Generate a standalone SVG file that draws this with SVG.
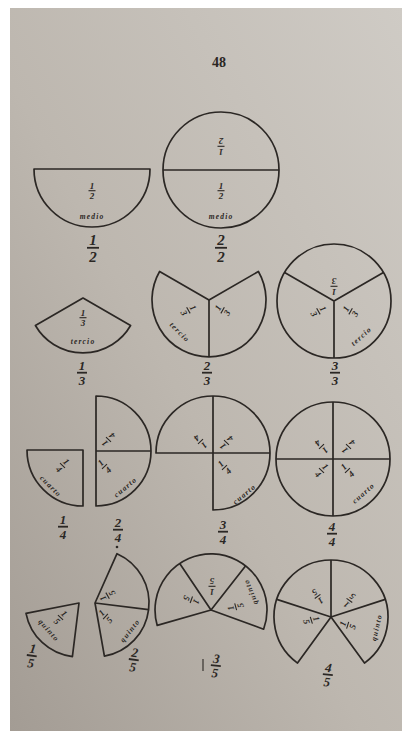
<svg xmlns="http://www.w3.org/2000/svg" width="402" height="731" viewBox="0 0 402 731">
<defs>
<linearGradient id="pg" x1="0" y1="1" x2="1" y2="0">
<stop offset="0" stop-color="#a39c94"/>
<stop offset="0.45" stop-color="#bdb7af"/>
<stop offset="1" stop-color="#cfcbc5"/>
</linearGradient>
<style>
.s{fill:none;stroke:#2b2724;stroke-width:1.7;stroke-linejoin:round}
.sf{font-family:"Liberation Serif",serif;font-style:italic;font-weight:bold;font-size:9px;fill:#2b2724;text-anchor:middle}
.w{font-family:"Liberation Serif",serif;font-style:italic;font-weight:bold;font-size:7.5px;letter-spacing:1.2px;fill:#2b2724;text-anchor:middle}
.bf{font-family:"Liberation Serif",serif;font-style:italic;font-weight:bold;font-size:15px;fill:#2b2724;text-anchor:middle}
.mf{font-family:"Liberation Serif",serif;font-style:italic;font-weight:bold;font-size:13px;fill:#2b2724;text-anchor:middle}
.b{stroke:#2b2724;stroke-width:1.1}
.bb{stroke:#2b2724;stroke-width:1.8}
</style>
</defs>
<rect width="402" height="731" fill="#ffffff"/>
<rect x="10" y="8" width="392" height="723" fill="url(#pg)"/>
<text x="219" y="67" font-family="Liberation Serif,serif" font-weight="bold" font-size="14" fill="#2b2724" text-anchor="middle">48</text>

<g id="half">
<path class="s" d="M34,169 H150 A58,58 0 0 1 34,169 Z"/>
<g transform="translate(92,190)"><text class="sf" y="-1.5">1</text><line class="b" x1="-3.5" x2="3.5" y1="0.7" y2="0.7"/><text class="sf" y="8.8">2</text></g>
<text class="w" x="92" y="219">medio</text>
<g transform="translate(93,246)"><text class="bf" y="-1.5">1</text><line class="bb" x1="-6" x2="6" y1="1.8" y2="1.8"/><text class="bf" y="15.5">2</text></g>
</g>

<g id="two-halves">
<circle class="s" cx="221" cy="170" r="58"/>
<line class="s" x1="163" y1="170" x2="279" y2="170"/>
<g transform="translate(221,147) rotate(180)"><text class="sf" y="-1.5">1</text><line class="b" x1="-3.5" x2="3.5" y1="0.7" y2="0.7"/><text class="sf" y="8.8">2</text></g>
<g transform="translate(221,190)"><text class="sf" y="-1.5">1</text><line class="b" x1="-3.5" x2="3.5" y1="0.7" y2="0.7"/><text class="sf" y="8.8">2</text></g>
<text class="w" x="221" y="219">medio</text>
<g transform="translate(221,246)"><text class="bf" y="-1.5">2</text><line class="bb" x1="-6" x2="6" y1="1.8" y2="1.8"/><text class="bf" y="15.5">2</text></g>
</g>

<g id="one-third">
<path class="s" d="M83,298 L130.6,325.5 A55,55 0 0 1 35.4,325.5 Z"/>
<g transform="translate(83,317)"><text class="sf" y="-1.5">1</text><line class="b" x1="-3.5" x2="3.5" y1="0.7" y2="0.7"/><text class="sf" y="8.8">3</text></g>
<text class="w" x="83" y="344">tercio</text>
<g transform="translate(82,371)"><text class="mf" y="-1">1</text><line class="bb" x1="-5" x2="5" y1="1.7" y2="1.7"/><text class="mf" y="13.5">3</text></g>
</g>

<g id="two-thirds">
<path class="s" d="M209,300 L258.4,271.5 A57,57 0 1 1 159.6,271.5 Z"/>
<line class="s" x1="209" y1="300" x2="209" y2="357"/>
<g transform="translate(189,310) rotate(60)"><text class="sf" y="-1.5">1</text><line class="b" x1="-3.5" x2="3.5" y1="0.7" y2="0.7"/><text class="sf" y="8.8">3</text></g>
<g transform="translate(222,310) rotate(-60)"><text class="sf" y="-1.5">1</text><line class="b" x1="-3.5" x2="3.5" y1="0.7" y2="0.7"/><text class="sf" y="8.8">3</text></g>
<text class="w" transform="translate(178,334) rotate(45)">tercio</text>
<g transform="translate(207,371)"><text class="mf" y="-1">2</text><line class="bb" x1="-5" x2="5" y1="1.7" y2="1.7"/><text class="mf" y="13.5">3</text></g>
</g>

<g id="three-thirds">
<circle class="s" cx="334" cy="301" r="57"/>
<path class="s" d="M334,301 L284.6,272.5 M334,301 L383.4,272.5 M334,301 V358"/>
<g transform="translate(334,287) rotate(180)"><text class="sf" y="-1.5">1</text><line class="b" x1="-3.5" x2="3.5" y1="0.7" y2="0.7"/><text class="sf" y="8.8">3</text></g>
<g transform="translate(319,311) rotate(60)"><text class="sf" y="-1.5">1</text><line class="b" x1="-3.5" x2="3.5" y1="0.7" y2="0.7"/><text class="sf" y="8.8">3</text></g>
<g transform="translate(350,311) rotate(-60)"><text class="sf" y="-1.5">1</text><line class="b" x1="-3.5" x2="3.5" y1="0.7" y2="0.7"/><text class="sf" y="8.8">3</text></g>
<text class="w" transform="translate(363,338) rotate(-42)">tercio</text>
<g transform="translate(335,371)"><text class="mf" y="-1">3</text><line class="bb" x1="-5" x2="5" y1="1.7" y2="1.7"/><text class="mf" y="13.5">3</text></g>
</g>

<g id="one-quarter">
<path class="s" d="M83,450 H27 A56,56 0 0 0 83,506 Z"/>
<g transform="translate(63,465) rotate(45)"><text class="sf" y="-1.5">1</text><line class="b" x1="-3.5" x2="3.5" y1="0.7" y2="0.7"/><text class="sf" y="8.8">4</text></g>
<text class="w" transform="translate(49,488) rotate(45)">cuarto</text>
<g transform="translate(63,525)"><text class="mf" y="-1">1</text><line class="bb" x1="-5" x2="5" y1="1.7" y2="1.7"/><text class="mf" y="13.5">4</text></g>
</g>

<g id="two-quarters">
<path class="s" d="M96,396 A55,55 0 0 1 96,506 Z"/>
<line class="s" x1="96" y1="451" x2="151" y2="451"/>
<g transform="translate(108,440) rotate(-135)"><text class="sf" y="-1.5">1</text><line class="b" x1="-3.5" x2="3.5" y1="0.7" y2="0.7"/><text class="sf" y="8.8">4</text></g>
<g transform="translate(104,466) rotate(-45)"><text class="sf" y="-1.5">1</text><line class="b" x1="-3.5" x2="3.5" y1="0.7" y2="0.7"/><text class="sf" y="8.8">4</text></g>
<text class="w" transform="translate(127,489) rotate(-40)">cuarto</text>
<g transform="translate(118,528)"><text class="mf" y="-1">2</text><line class="bb" x1="-5" x2="5" y1="1.7" y2="1.7"/><text class="mf" y="13.5">4</text></g>
<circle cx="117" cy="547" r="1.3" fill="#2b2724"/>
</g>

<g id="three-quarters">
<path class="s" d="M213,453 H156 A57,57 0 1 1 213,510 Z"/>
<path class="s" d="M213,453 H270 M213,396 V453"/>
<g transform="translate(201,442) rotate(135)"><text class="sf" y="-1.5">1</text><line class="b" x1="-3.5" x2="3.5" y1="0.7" y2="0.7"/><text class="sf" y="8.8">4</text></g>
<g transform="translate(226,443) rotate(-135)"><text class="sf" y="-1.5">1</text><line class="b" x1="-3.5" x2="3.5" y1="0.7" y2="0.7"/><text class="sf" y="8.8">4</text></g>
<g transform="translate(224,467) rotate(-45)"><text class="sf" y="-1.5">1</text><line class="b" x1="-3.5" x2="3.5" y1="0.7" y2="0.7"/><text class="sf" y="8.8">4</text></g>
<text class="w" transform="translate(246,496) rotate(-40)">cuarto</text>
<g transform="translate(223,530)"><text class="mf" y="-1">3</text><line class="bb" x1="-5" x2="5" y1="1.7" y2="1.7"/><text class="mf" y="13.5">4</text></g>
</g>

<g id="four-quarters">
<circle class="s" cx="333" cy="459" r="57"/>
<path class="s" d="M276,459 H390 M333,402 V516"/>
<g transform="translate(322,447) rotate(135)"><text class="sf" y="-1.5">1</text><line class="b" x1="-3.5" x2="3.5" y1="0.7" y2="0.7"/><text class="sf" y="8.8">4</text></g>
<g transform="translate(348,447) rotate(-135)"><text class="sf" y="-1.5">1</text><line class="b" x1="-3.5" x2="3.5" y1="0.7" y2="0.7"/><text class="sf" y="8.8">4</text></g>
<g transform="translate(322,470) rotate(45)"><text class="sf" y="-1.5">1</text><line class="b" x1="-3.5" x2="3.5" y1="0.7" y2="0.7"/><text class="sf" y="8.8">4</text></g>
<g transform="translate(347,470) rotate(-45)"><text class="sf" y="-1.5">1</text><line class="b" x1="-3.5" x2="3.5" y1="0.7" y2="0.7"/><text class="sf" y="8.8">4</text></g>
<text class="w" transform="translate(365,495) rotate(-42)">cuarto</text>
<g transform="translate(332,532)"><text class="mf" y="-1">4</text><line class="bb" x1="-5" x2="5" y1="1.7" y2="1.7"/><text class="mf" y="13.5">4</text></g>
</g>

<g id="one-fifth">
<path class="s" d="M79,603 L26,613.3 A54,54 0 0 0 72.4,656.6 Z"/>
<g transform="translate(61,617) rotate(43)"><text class="sf" y="-1.5">1</text><line class="b" x1="-3.5" x2="3.5" y1="0.7" y2="0.7"/><text class="sf" y="8.8">5</text></g>
<text class="w" transform="translate(47,632) rotate(48)">quinto</text>
<g transform="translate(32,654) rotate(8)"><text class="mf" y="-1">1</text><line class="bb" x1="-5" x2="5" y1="1.7" y2="1.7"/><text class="mf" y="13.5">5</text></g>
</g>

<g id="two-fifths">
<path class="s" d="M95,603 L117,553.7 A54,54 0 0 1 104.4,656.2 Z"/>
<line class="s" x1="95" y1="603" x2="148.6" y2="609.6"/>
<g transform="translate(107,596) rotate(-120)"><text class="sf" y="-1.5">1</text><line class="b" x1="-3.5" x2="3.5" y1="0.7" y2="0.7"/><text class="sf" y="8.8">5</text></g>
<g transform="translate(105,616) rotate(-47)"><text class="sf" y="-1.5">1</text><line class="b" x1="-3.5" x2="3.5" y1="0.7" y2="0.7"/><text class="sf" y="8.8">5</text></g>
<text class="w" transform="translate(132,632) rotate(-52)">quinto</text>
<g transform="translate(134,658) rotate(8)"><text class="mf" y="-1">2</text><line class="bb" x1="-5" x2="5" y1="1.7" y2="1.7"/><text class="mf" y="13.5">5</text></g>
</g>

<g id="three-fifths">
<path class="s" d="M211,610 L157.2,625.4 A56,56 0 1 1 263.6,629.2 Z"/>
<path class="s" d="M211,610 L179.7,563.6 M211,610 L245.5,565.9"/>
<g transform="translate(192,600) rotate(110)"><text class="sf" y="-1.5">1</text><line class="b" x1="-3.5" x2="3.5" y1="0.7" y2="0.7"/><text class="sf" y="8.8">5</text></g>
<g transform="translate(212,587) rotate(180)"><text class="sf" y="-1.5">1</text><line class="b" x1="-3.5" x2="3.5" y1="0.7" y2="0.7"/><text class="sf" y="8.8">5</text></g>
<g transform="translate(235,607) rotate(-106)"><text class="sf" y="-1.5">1</text><line class="b" x1="-3.5" x2="3.5" y1="0.7" y2="0.7"/><text class="sf" y="8.8">5</text></g>
<text class="w" transform="translate(253,591) rotate(-112)">quinto</text>
<line class="b" x1="203" y1="659" x2="203" y2="671"/>
<g transform="translate(216,664) rotate(6)"><text class="mf" y="-1">3</text><line class="bb" x1="-5" x2="5" y1="1.7" y2="1.7"/><text class="mf" y="13.5">5</text></g>
</g>

<g id="four-fifths">
<path class="s" d="M331,617 L297.5,663.1 A57,57 0 1 1 364.5,663.1 Z"/>
<path class="s" d="M331,617 L276.8,599.4 M331,617 L331,560 M331,617 L385.2,599.4"/>
<g transform="translate(318,597) rotate(144)"><text class="sf" y="-1.5">1</text><line class="b" x1="-3.5" x2="3.5" y1="0.7" y2="0.7"/><text class="sf" y="8.8">5</text></g>
<g transform="translate(349,601) rotate(-144)"><text class="sf" y="-1.5">1</text><line class="b" x1="-3.5" x2="3.5" y1="0.7" y2="0.7"/><text class="sf" y="8.8">5</text></g>
<g transform="translate(312,620) rotate(72)"><text class="sf" y="-1.5">1</text><line class="b" x1="-3.5" x2="3.5" y1="0.7" y2="0.7"/><text class="sf" y="8.8">5</text></g>
<g transform="translate(347,625) rotate(-72)"><text class="sf" y="-1.5">1</text><line class="b" x1="-3.5" x2="3.5" y1="0.7" y2="0.7"/><text class="sf" y="8.8">5</text></g>
<text class="w" transform="translate(379,628) rotate(-77)">quinto</text>
<g transform="translate(328,673) rotate(6)"><text class="mf" y="-1">4</text><line class="bb" x1="-5" x2="5" y1="1.7" y2="1.7"/><text class="mf" y="13.5">5</text></g>
</g>
</svg>
